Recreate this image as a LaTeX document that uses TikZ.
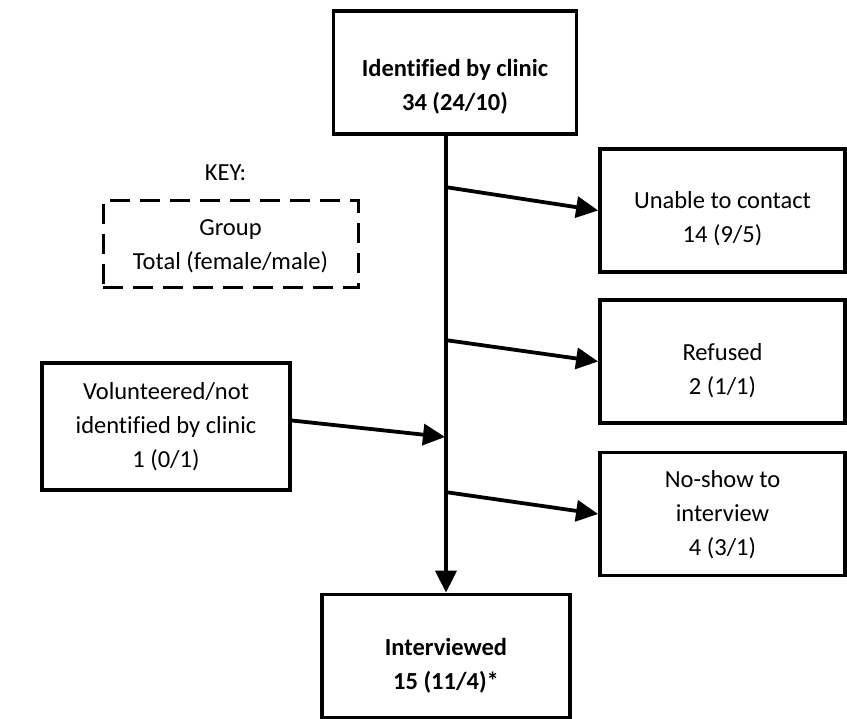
\documentclass[tikz,border=0pt]{standalone}
\usepackage{fontspec}
\setmainfont{Carlito}[Ligatures=NoCommon]
\usetikzlibrary{arrows.meta,positioning}

\tikzset{
  box/.style={draw, line width=3.8pt, minimum width=#1, minimum height=123pt},
  box/.default=245pt,
  keybox/.style={draw, line width=3pt, dash pattern=on 20pt off 10pt,
    minimum width=255pt, minimum height=87pt},
  txt/.style={align=center, font=\fontsize{24.5}{34}\selectfont},
  arr/.style={line width=3.8pt, -{Triangle[length=22pt,width=21pt]}}
}

\begin{document}
\begin{tikzpicture}[x=1pt, y=-1pt]
\useasboundingbox (0,0) rectangle (847,719);

	\node [box=243pt, label={[txt, yshift=-14pt]center:{\bfseries Identified by clinic\\\bfseries 34 (24/10)}}] (a1) at (455,72.5) {};
	\node [box=248pt, label={[txt, yshift=-10pt]center:{\bfseries Interviewed\\\bfseries 15 (11/4)*}}] (a2) at (446,656) {};

	\node [box, label={[txt, yshift=-8pt]center:{Unable to contact\\14 (9/5)}}] (r1) at (722.5,210.5) {};
	\node [box, label={[txt, yshift=-9pt]center:{Refused\\2 (1/1)}}] (r2) at (722.5,361.5) {};
	\node [box, label={[txt, yshift=-1pt]center:{No-show to\\interview\\4 (3/1)}}] (r3) at (722.5,514) {};

	\node [box=248pt, minimum height=127pt, label={[txt]center:{Volunteered/not\\identified by clinic\\1 (0/1)}}] (l1) at (166,426.5) {};

	\node [keybox, label={[txt, yshift=-2pt]center:{Group\\Total (female/male)}}] (k1) at (230.5,244.5) {};
	\node [txt, above=15pt of k1, xshift=-5pt] (k0) {KEY:};

	\coordinate (t1) at (445,187);
	\coordinate (t2) at (445,340);
	\coordinate (t3) at (445,437);
	\coordinate (t4) at (445,492);

	\draw [arr] (a1.south -| a2.north) -- (a2.north);
	\draw [arr] (t1) -- (r1.west);
	\draw [arr] (t2) -- (r2.west);
	\draw [arr] ([yshift=6pt]l1.east) -- (t3);
	\draw [arr] (t4) -- (r3.west);

\end{tikzpicture}
\end{document}
